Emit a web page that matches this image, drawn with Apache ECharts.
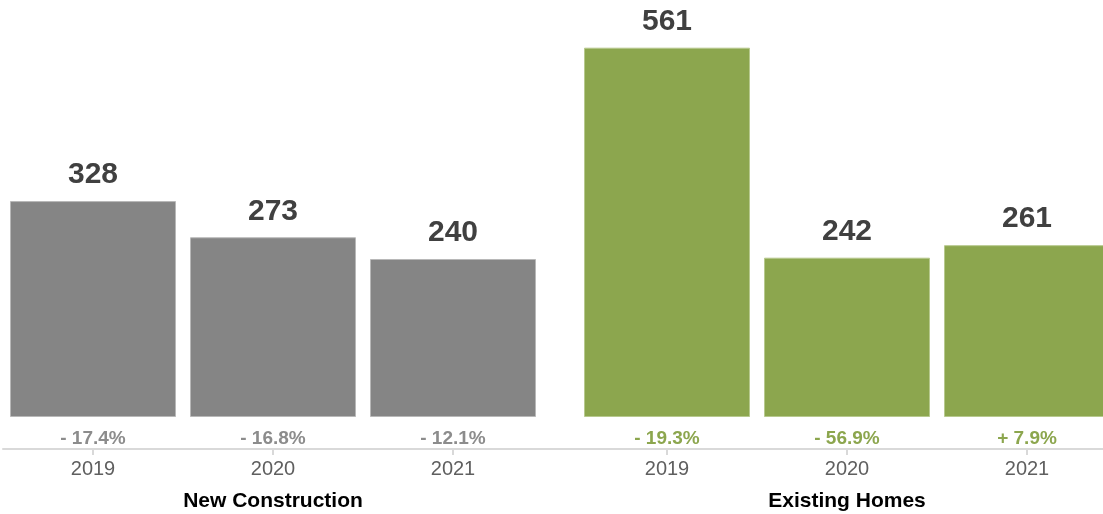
<!DOCTYPE html>
<html>
<head>
<meta charset="utf-8">
<style>
  html, body { margin: 0; padding: 0; background: #ffffff; }
  #chart { width: 1103px; height: 514px; }
</style>
<script src="https://cdn.jsdelivr.net/npm/echarts@6/dist/echarts.min.js"></script>
</head>
<body>
<div id="chart"></div>
<script>
// Sales by year, two market segments
const years = ['2019', '2020', '2021'];
const groupNames = ['New Construction', 'Existing Homes'];
const newConstruction = [328, 273, 240];
const existingHomes = [561, 242, 261];
// Year-over-year change, percent
const newConstructionChange = [-17.4, -16.8, -12.1];
const existingHomesChange = [-19.3, -56.9, 7.9];

const FONT = '"Liberation Sans", Arial, Helvetica, sans-serif';
const GRAY = '#858585';
const GRAY_EDGE = '#b8b8b8';
const GREEN = '#8ca64e';
const GREEN_EDGE = '#b7c98e';
const AXIS = '#d9d9d9';

function fmtChange(v) {
  return (v < 0 ? '- ' : '+ ') + Math.abs(v).toFixed(1) + '%';
}

function makeSeries(idx, values, changes, color, edge, changeColor) {
  return [
    {
      type: 'bar',
      xAxisIndex: idx,
      yAxisIndex: idx,
      data: values,
      barWidth: 166,
      itemStyle: { color: color, borderColor: edge, borderWidth: 1 },
      label: {
        show: true,
        position: 'top',
        distance: 11,
        fontFamily: FONT,
        fontSize: 30,
        fontWeight: 'bold',
        color: '#404040'
      },
      silent: true
    },
    {
      // invisible twin carrying the change labels under each bar
      type: 'bar',
      xAxisIndex: idx,
      yAxisIndex: idx,
      data: values.map(() => 0),
      barWidth: 166,
      barGap: '-100%',
      itemStyle: { color: 'transparent' },
      label: {
        show: true,
        position: 'bottom',
        distance: 12,
        fontFamily: FONT,
        fontSize: 19,
        fontWeight: 'bold',
        color: changeColor,
        formatter: p => fmtChange(changes[p.dataIndex])
      },
      silent: true
    }
  ];
}

function makeXAxis(idx) {
  return {
    type: 'category',
    gridIndex: idx,
    data: years,
    position: 'bottom',
    offset: 32,
    axisLine: { show: true, onZero: false, lineStyle: { color: AXIS, width: 2 } },
    axisTick: { show: true, inside: false, alignWithLabel: true, length: 6, lineStyle: { color: AXIS, width: 2 } },
    axisLabel: { margin: 10, fontFamily: FONT, fontSize: 20, color: '#5f5f5f' },
    splitLine: { show: false },
    name: groupNames[idx],
    nameLocation: 'middle',
    nameGap: 42,
    nameTextStyle: { fontFamily: FONT, fontSize: 21, fontWeight: 'bold', color: '#000000' }
  };
}

function makeYAxis(idx) {
  return {
    type: 'value',
    gridIndex: idx,
    min: 0,
    max: 600,
    show: false
  };
}

const chart = echarts.init(document.getElementById('chart'), null, { renderer: 'canvas' });
chart.setOption({
  backgroundColor: '#ffffff',
  animation: false,
  grid: [
    { left: 3, width: 540, top: 22, bottom: 97, outerBoundsMode: 'none' },
    { left: 577, width: 540, top: 22, bottom: 97, outerBoundsMode: 'none' }
  ],
  xAxis: [makeXAxis(0), makeXAxis(1)],
  yAxis: [makeYAxis(0), makeYAxis(1)],
  graphic: [
    {
      // joins the two axis lines across the gap between groups
      type: 'line',
      shape: { x1: 543, y1: 449, x2: 577, y2: 449 },
      style: { stroke: AXIS, lineWidth: 2 },
      silent: true
    }
  ],
  series: [
    ...makeSeries(0, newConstruction, newConstructionChange, GRAY, GRAY_EDGE, '#8c8c8c'),
    ...makeSeries(1, existingHomes, existingHomesChange, GREEN, GREEN_EDGE, GREEN)
  ]
});
</script>
</body>
</html>
